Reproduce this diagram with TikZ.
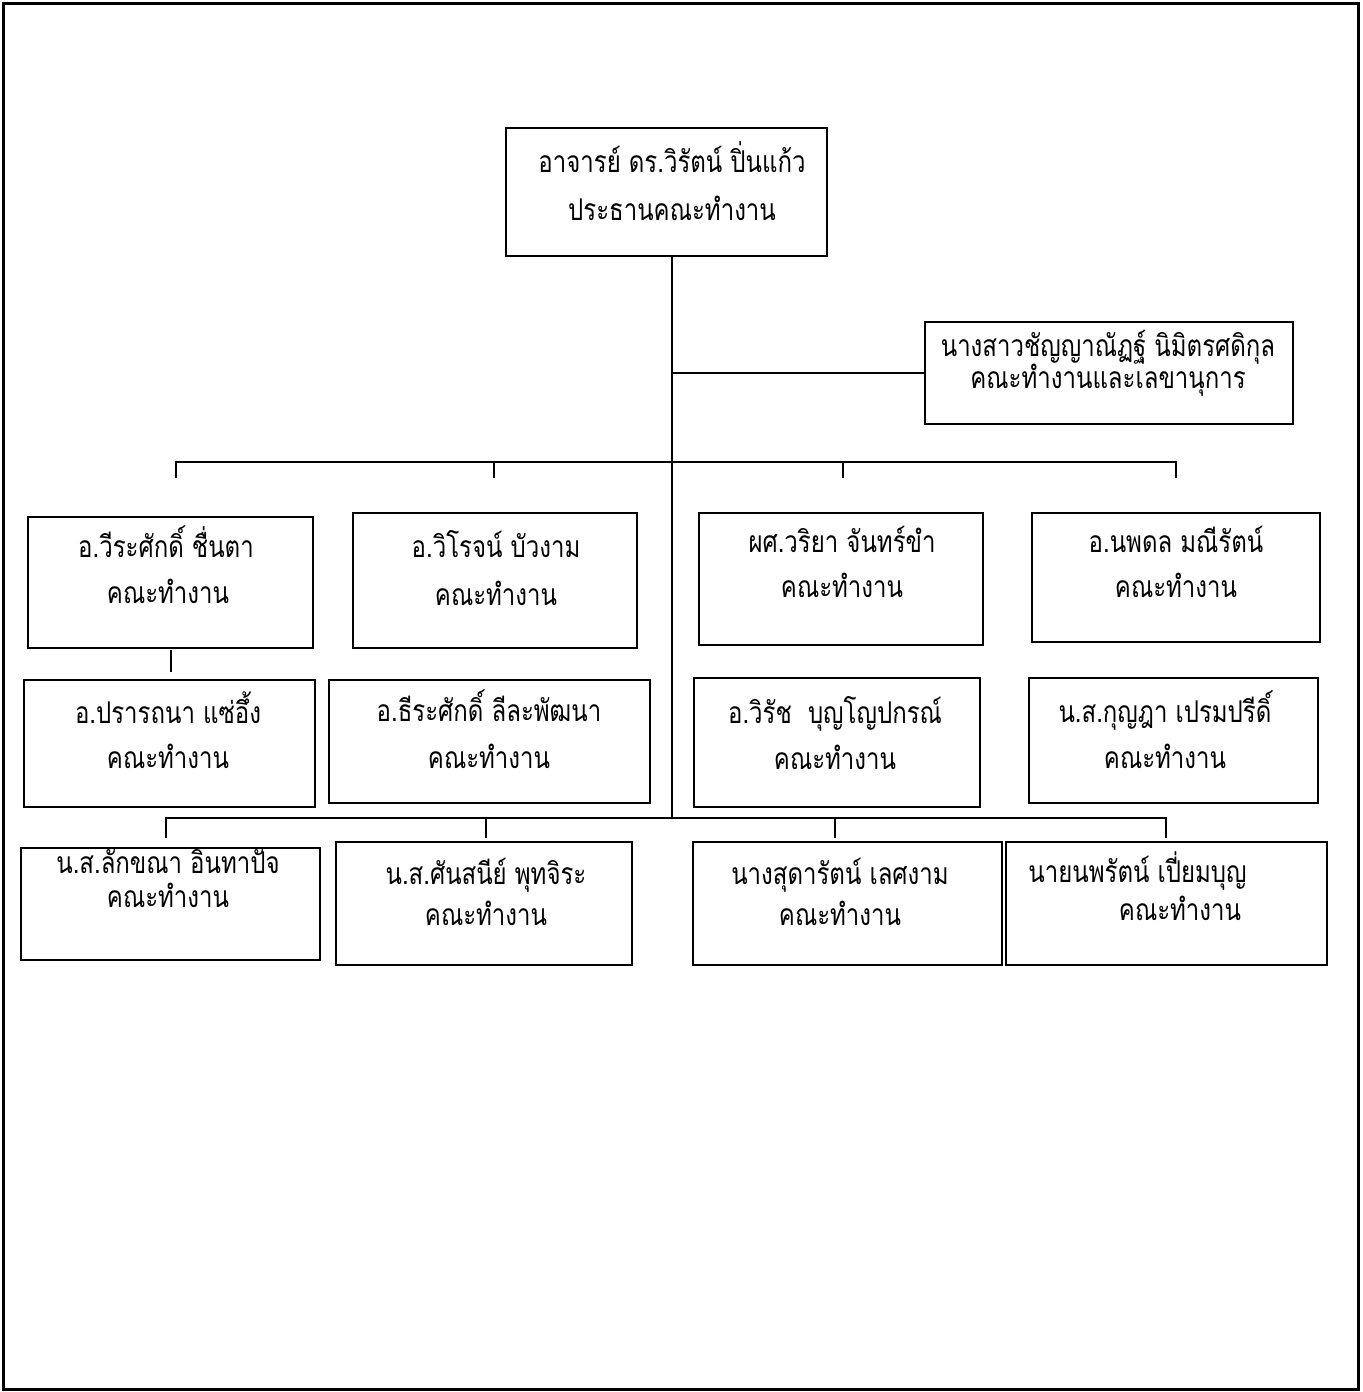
\documentclass[tikz,border=0pt]{standalone}
\usepackage{fontspec}
\newfontfamily\thaifont[Script=Thai,FakeStretch=0.8]{Loma}
\tikzset{
  orgbox/.style={draw, line width=1pt, inner sep=0pt},
  txt/.style={anchor=base, inner sep=0pt, font=\thaifont\fontsize{15pt}{18pt}\selectfont},
  txtl/.style={txt, anchor=base west},
  conn/.style={line width=0.8pt},
}
\newcommand\obox[5]{\node[orgbox, minimum width={(#4-#2)*0.5pt}, minimum height={(#5-#3)*0.5pt}] (#1) at ({(#2+#4)/2},{(#3+#5)/2}) {};}
\begin{document}
\begin{tikzpicture}[x=0.5pt,y=-0.5pt]
\useasboundingbox (0,0) rectangle (1362,1392);
\node[draw, line width=1.5pt, inner sep=0pt, minimum width=677.5pt, minimum height=693pt] (frame) at (680.5,696) {};

% boxes
\obox{T}{506}{128}{827}{256}
\obox{S}{925}{322}{1293}{424}
\obox{B1}{28}{517}{313}{648}
\obox{B2}{353}{513}{637}{648}
\obox{B3}{699}{513}{983}{645}
\obox{B4}{1032}{513}{1320}{642}
\obox{C1}{24}{680}{315}{807}
\obox{C2}{329}{680}{650}{803}
\obox{C3}{694}{678}{980}{807}
\obox{C4}{1029}{678}{1318}{803}
\obox{D1}{21}{848}{320}{960}
\obox{D2}{336}{842}{632}{965}
\obox{D3}{693}{842}{1002}{965}
\obox{D4}{1006}{842}{1327}{965}

% texts
\node[txt] (Ta) at (672,172) {อาจารย์ ดร.วิรัตน์ ปิ่นแก้ว};
\node[txt] (Tb) at (672,220) {ประธานคณะทำงาน};
\node[txt] (Sa) at (1108,356) {นางสาวชัญญาณัฏฐ์ นิมิตรศดิกุล};
\node[txt] (Sb) at (1108,388) {คณะทำงานและเลขานุการ};
\node[txt] (B1a) at (166,557) {อ.วีระศักดิ์ ชื่นตา};
\node[txt] (B1b) at (168,603) {คณะทำงาน};
\node[txt] (B2a) at (496,557) {อ.วิโรจน์ บัวงาม};
\node[txt] (B2b) at (496,605) {คณะทำงาน};
\node[txt] (B3a) at (842,552) {ผศ.วริยา จันทร์ขำ};
\node[txt] (B3b) at (842,597) {คณะทำงาน};
\node[txt] (B4a) at (1176,552) {อ.นพดล มณีรัตน์};
\node[txt] (B4b) at (1176,597) {คณะทำงาน};
\node[txt] (C1a) at (168,723) {อ.ปรารถนา แซ่อึ้ง};
\node[txt] (C1b) at (168,768) {คณะทำงาน};
\node[txt] (C2a) at (489,721) {อ.ธีระศักดิ์ ลีละพัฒนา};
\node[txt] (C2b) at (489,768) {คณะทำงาน};
\node[txt] (C3a) at (835,723) {อ.วิรัช~~บุญโญปกรณ์};
\node[txt] (C3b) at (835,769) {คณะทำงาน};
\node[txt] (C4a) at (1165,722) {น.ส.กุญฎา เปรมปรีดิ์};
\node[txt] (C4b) at (1165,768) {คณะทำงาน};
\node[txt] (D1a) at (168,873) {น.ส.ลักขณา อินทาปัจ};
\node[txt] (D1b) at (168,907) {คณะทำงาน};
\node[txt] (D2a) at (486,884) {น.ส.ศันสนีย์ พุทจิระ};
\node[txt] (D2b) at (486,925) {คณะทำงาน};
\node[txt] (D3a) at (840,884) {นางสุดารัตน์ เลศงาม};
\node[txt] (D3b) at (840,925) {คณะทำงาน};
\node[txtl] (D4a) at (1028,882) {นายนพรัตน์ เปี่ยมบุญ};
\node[txt] (D4b) at (1180,920) {คณะทำงาน};

% connector coordinates
\coordinate (s0) at (672,256);
\coordinate (s1) at (672,462);
\coordinate (s2) at (672,818);
\coordinate (p1) at (176,478);
\coordinate (p2) at (494,478);
\coordinate (p3) at (843,478);
\coordinate (p4) at (1176,478);
\coordinate (q1) at (166,838);
\coordinate (q2) at (486,838);
\coordinate (q3) at (835,838);
\coordinate (q4) at (1166,838);
\coordinate (k1) at (171,650);
\coordinate (k2) at (171,672);

% connectors
\draw[conn] (T.south -| s0) -- (s2);
\draw[conn] (S.west) -- (S.west -| s0);
\draw[conn] (p1) -- (p1 |- s1) -- (p4 |- s1) -- (p4);
\draw[conn] (p2 |- s1) -- (p2);
\draw[conn] (p3 |- s1) -- (p3);
\draw[conn] (q1) -- (q1 |- s2) -- (q4 |- s2) -- (q4);
\draw[conn] (q2 |- s2) -- (q2);
\draw[conn] (q3 |- s2) -- (q3);
\draw[conn] (k1) -- (k2);
\end{tikzpicture}
\end{document}
